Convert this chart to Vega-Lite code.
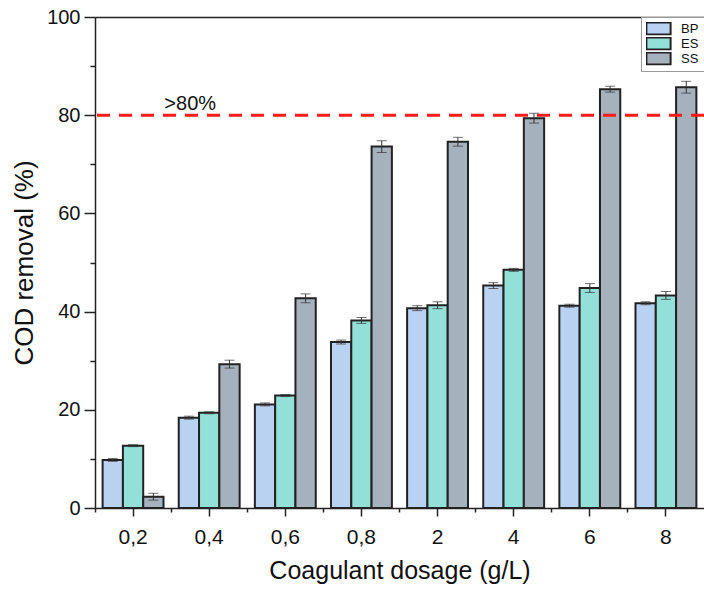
{
  "$schema": "https://vega.github.io/schema/vega-lite/v6.json",
  "width": 609,
  "height": 491,
  "autosize": {"type": "none"},
  "padding": {"left": 95, "top": 17, "right": 0, "bottom": 82},
  "background": "white",
  "config": {
    "font": "Liberation Sans",
    "view": {"stroke": null},
    "axis": {"domainColor": "#222", "tickColor": "#222", "labelColor": "#111", "titleColor": "#111", "domainWidth": 1.5, "tickWidth": 1.5, "grid": false}
  },
  "data": {
    "values": [
      {"dose": "0,2", "series": "BP", "value": 9.8, "err": 0.3},
      {"dose": "0,2", "series": "ES", "value": 12.7, "err": 0.2},
      {"dose": "0,2", "series": "SS", "value": 2.3, "err": 0.7},
      {"dose": "0,4", "series": "BP", "value": 18.4, "err": 0.3},
      {"dose": "0,4", "series": "ES", "value": 19.4, "err": 0.2},
      {"dose": "0,4", "series": "SS", "value": 29.3, "err": 0.8},
      {"dose": "0,6", "series": "BP", "value": 21.1, "err": 0.3},
      {"dose": "0,6", "series": "ES", "value": 22.9, "err": 0.2},
      {"dose": "0,6", "series": "SS", "value": 42.7, "err": 0.9},
      {"dose": "0,8", "series": "BP", "value": 33.8, "err": 0.4},
      {"dose": "0,8", "series": "ES", "value": 38.2, "err": 0.6},
      {"dose": "0,8", "series": "SS", "value": 73.6, "err": 1.2},
      {"dose": "2", "series": "BP", "value": 40.7, "err": 0.5},
      {"dose": "2", "series": "ES", "value": 41.3, "err": 0.7},
      {"dose": "2", "series": "SS", "value": 74.6, "err": 0.9},
      {"dose": "4", "series": "BP", "value": 45.3, "err": 0.6},
      {"dose": "4", "series": "ES", "value": 48.5, "err": 0.3},
      {"dose": "4", "series": "SS", "value": 79.4, "err": 1.0},
      {"dose": "6", "series": "BP", "value": 41.2, "err": 0.3},
      {"dose": "6", "series": "ES", "value": 44.8, "err": 0.9},
      {"dose": "6", "series": "SS", "value": 85.3, "err": 0.6},
      {"dose": "8", "series": "BP", "value": 41.7, "err": 0.3},
      {"dose": "8", "series": "ES", "value": 43.3, "err": 0.8},
      {"dose": "8", "series": "SS", "value": 85.7, "err": 1.2}
    ]
  },
  "transform": [
    {"calculate": "datum.value - datum.err", "as": "lo"},
    {"calculate": "datum.value + datum.err", "as": "hi"}
  ],
  "resolve": {"axis": {"x": "independent", "y": "independent"}},
  "layer": [
    {
      "mark": {"type": "bar", "stroke": "#222", "strokeWidth": 2},
      "encoding": {
        "x": {
          "field": "dose", "type": "nominal", "sort": null,
          "scale": {"paddingInner": 0.2, "paddingOuter": 0.1},
          "axis": {"orient": "bottom", "title": "Coagulant dosage (g/L)", "labelAngle": 0, "labelFontSize": 21, "titleFontSize": 25, "titleFontWeight": "normal", "tickSize": 8, "labelPadding": 10, "titlePadding": 11}
        },
        "y": {
          "field": "value", "type": "quantitative",
          "scale": {"domain": [0, 100], "nice": false},
          "axis": {"orient": "left", "title": "COD removal (%)", "values": [0, 20, 40, 60, 80, 100], "labelFontSize": 20, "titleFontSize": 26, "titleFontWeight": "normal", "tickSize": 11, "labelPadding": 4, "titlePadding": 9}
        },
        "xOffset": {"field": "series", "type": "nominal", "scale": {"paddingInner": 0, "paddingOuter": 0}},
        "fill": {
          "field": "series", "type": "nominal",
          "scale": {"domain": ["BP", "ES", "SS"], "range": ["#bad2f2", "#93e0d8", "#a6b1be"]},
          "legend": {
            "orient": "top-right", "offset": 0, "title": null,
            "fillColor": "white", "strokeColor": "#999", "padding": 5,
            "symbolType": "M-2.2,-1.1H2.2V1.1H-2.2Z", "symbolSize": 121, "symbolStrokeColor": "#222", "symbolStrokeWidth": 2,
            "symbolOffset": 6, "clipHeight": 13,
            "labelFontSize": 13, "labelColor": "#111", "labelOffset": 16, "rowPadding": 1
          }
        }
      }
    },
    {
      "mark": {"type": "rule", "color": "#333", "strokeWidth": 1},
      "encoding": {
        "x": {"field": "dose", "type": "nominal", "sort": null,
          "axis": {"orient": "bottom", "title": null, "labels": false, "domain": false, "tickSize": 4, "bandPosition": -0.125}},
        "xOffset": {"field": "series", "type": "nominal"},
        "y": {"field": "lo", "type": "quantitative",
          "axis": {"orient": "left", "title": null, "labels": false, "domain": false, "tickSize": 5, "values": [10, 30, 50, 70, 90]}},
        "y2": {"field": "hi"}
      }
    },
    {
      "mark": {"type": "tick", "color": "#333", "size": 10, "thickness": 1},
      "encoding": {
        "x": {"field": "dose", "type": "nominal", "sort": null,
          "axis": {"orient": "top", "title": null, "labels": false, "ticks": false, "domain": true}},
        "xOffset": {"field": "series", "type": "nominal"},
        "y": {"field": "hi", "type": "quantitative", "axis": null}
      }
    },
    {
      "mark": {"type": "tick", "color": "#333", "size": 10, "thickness": 1},
      "encoding": {
        "x": {"field": "dose", "type": "nominal", "sort": null, "axis": null},
        "xOffset": {"field": "series", "type": "nominal"},
        "y": {"field": "lo", "type": "quantitative", "axis": null}
      }
    },
    {
      "data": {"values": [{"level": 80, "label": ">80%", "at": "0,4"}]},
      "mark": {"type": "rule", "color": "#ff1a1a", "strokeWidth": 3, "strokeDash": [13, 9]},
      "encoding": {"y": {"field": "level", "type": "quantitative", "axis": null}}
    },
    {
      "data": {"values": [{"level": 80, "label": ">80%", "at": "0,4"}]},
      "mark": {"type": "text", "fontSize": 20, "color": "#111", "align": "center", "baseline": "alphabetic", "dx": -19, "dy": -5},
      "encoding": {
        "x": {"field": "at", "type": "nominal", "axis": null},
        "y": {"field": "level", "type": "quantitative", "axis": null},
        "text": {"field": "label"}
      }
    }
  ]
}
